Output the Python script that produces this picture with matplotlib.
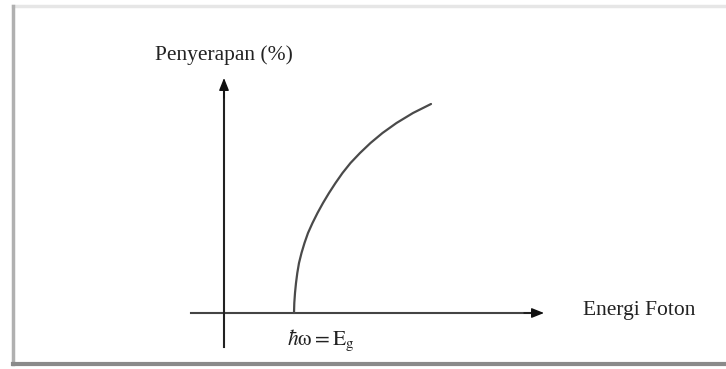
import matplotlib.pyplot as plt
from matplotlib.lines import Line2D

plt.rcParams['mathtext.fontset'] = 'stix'

# absorption curve (energy offset, absorption)
energi = [70, 70.3, 71, 72, 73.3, 75, 77.5, 80.5, 84, 88.5, 93.5, 99, 105,
          111.5, 118.5, 126.5, 136, 146.5, 158.5, 172.5, 189, 207]
serapan = [0, 10, 20, 30, 40, 50, 60, 70, 80, 90, 100, 110, 120,
           130, 140, 150, 160, 170, 180, 190, 200, 209]

label_y = 'Penyerapan (%)'
label_x = 'Energi Foton'
label_gap = r'$\hbar\mathrm{\omega} = \mathrm{E_g}$'

fig = plt.figure(figsize=(7.26, 3.69), dpi=100)
ax = fig.add_axes([0, 0, 1, 1])
ax.set_xlim(-224, 502)
ax.set_ylim(-56, 313)
ax.axis('off')

# axis lines with arrow heads
ax.plot([-33, 312], [0, 0], color='#444444', lw=1.5)
ax.plot([0, 0], [-34, 225], color='#222222', lw=1.5)
ax.annotate('', xy=(320, 0), xytext=(300, 0),
            arrowprops=dict(arrowstyle='-|>,head_length=0.75,head_width=0.3',
                            color='#111111', lw=1.0, shrinkA=0, shrinkB=0))
ax.annotate('', xy=(0, 235), xytext=(0, 215),
            arrowprops=dict(arrowstyle='-|>,head_length=0.75,head_width=0.3',
                            color='#111111', lw=1.0, shrinkA=0, shrinkB=0))

ax.plot(energi, serapan, color='#4a4a4a', lw=1.6,
        solid_capstyle='round', solid_joinstyle='round')

font = ['Liberation Serif', 'DejaVu Serif']
ax.text(0, 258, label_y, family=font, fontsize=15.5, color='#222222',
        ha='center', va='center')
ax.text(359, 3, label_x, family=font, fontsize=15.5, color='#222222',
        ha='left', va='center')
ax.text(97, -27, label_gap, fontsize=15.5, color='#222222',
        ha='center', va='center')

# picture frame with shadow on left and bottom
fig.add_artist(Line2D([13/726, 724/726], [1 - 6/369, 1 - 6/369],
                      transform=fig.transFigure, color='#e6e6e6', lw=2.5))
fig.add_artist(Line2D([13/726, 13/726], [1 - 6/369, 1 - 364/369],
                      transform=fig.transFigure, color='#b0b0b0', lw=2.5))
fig.add_artist(Line2D([13/726, 726/726], [1 - 364/369, 1 - 364/369],
                      transform=fig.transFigure, color='#8a8a8a', lw=3))

fig.savefig('out.png', dpi=100)
